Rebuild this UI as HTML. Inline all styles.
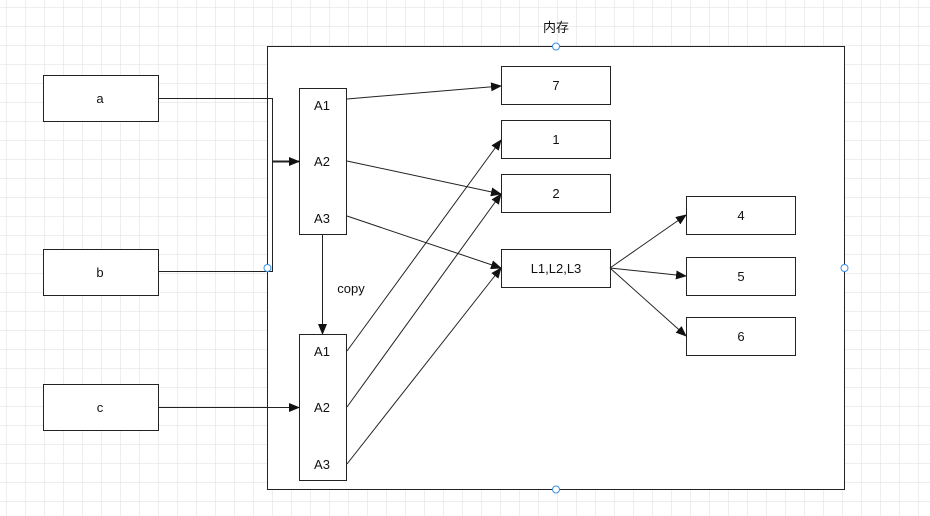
<!DOCTYPE html>
<html><head><meta charset="utf-8"><style>
html,body{margin:0;padding:0;background:#fff;}
svg{display:block;font-family:"Liberation Sans","Noto Sans CJK SC",sans-serif;}
</style></head><body>
<svg width="930" height="516" viewBox="0 0 930 516" xmlns="http://www.w3.org/2000/svg">
<defs>
<pattern id="g" x="6" y="7" width="19" height="19" patternUnits="userSpaceOnUse">
<path d="M0 0H19M0 0V19" stroke="#dedede" stroke-width="1" fill="none"/>
</pattern>
<marker id="ar" markerWidth="11" markerHeight="9" refX="10" refY="4.5" orient="auto" markerUnits="userSpaceOnUse">
<path d="M0 0L11 4.5L0 9Z" fill="#111"/>
</marker>
</defs>
<rect width="930" height="516" fill="url(#g)"/>
<g fill="#fff" stroke="#222" stroke-width="1">
<rect x="267.5" y="46.5" width="577" height="443"/>
<rect x="43.5" y="75.5" width="115" height="46"/>
<rect x="43.5" y="249.5" width="115" height="46"/>
<rect x="43.5" y="384.5" width="115" height="46"/>
<rect x="299.5" y="88.5" width="47" height="146"/>
<rect x="299.5" y="334.5" width="47" height="146"/>
<rect x="501.5" y="66.5" width="109" height="38"/>
<rect x="501.5" y="120.5" width="109" height="38"/>
<rect x="501.5" y="174.5" width="109" height="38"/>
<rect x="501.5" y="249.5" width="109" height="38"/>
<rect x="686.5" y="196.5" width="109" height="38"/>
<rect x="686.5" y="257.5" width="109" height="38"/>
<rect x="686.5" y="317.5" width="109" height="38"/>
</g>
<g stroke="#222" stroke-width="1" fill="none">
<path d="M158 98.5H272.5V161.5"/>
<path d="M158 271.5H272.5V161.5"/>
<path d="M272 161.5H299" stroke-width="2" marker-end="url(#ar)"/>
<path d="M158 407.5H299" marker-end="url(#ar)"/>
<path d="M347 99L501 86" marker-end="url(#ar)"/>
<path d="M347 161L501 194" marker-end="url(#ar)"/>
<path d="M347 216L501 268" marker-end="url(#ar)"/>
<path d="M347 351L501 140" marker-end="url(#ar)"/>
<path d="M347 407L501 194" marker-end="url(#ar)"/>
<path d="M347 464L501 268" marker-end="url(#ar)"/>
<path d="M322.5 234V334" marker-end="url(#ar)"/>
<path d="M610 268L686 215" marker-end="url(#ar)"/>
<path d="M610 268L686 276" marker-end="url(#ar)"/>
<path d="M610 268L686 336" marker-end="url(#ar)"/>
</g>
<g fill="#fff" stroke="#3b8fe8" stroke-width="1">
<circle cx="556" cy="46.5" r="3.5"/><circle cx="556" cy="489.5" r="3.5"/>
<circle cx="267.5" cy="268" r="3.5"/><circle cx="844.5" cy="268" r="3.5"/>
</g>
<g font-size="13" fill="#111" text-anchor="middle">
<text x="556" y="32">内存</text>
<text x="100" y="103">a</text>
<text x="100" y="277">b</text>
<text x="100" y="412">c</text>
<text x="322" y="110">A1</text>
<text x="322" y="166">A2</text>
<text x="322" y="223">A3</text>
<text x="322" y="356">A1</text>
<text x="322" y="412">A2</text>
<text x="322" y="469">A3</text>
<text x="351" y="293">copy</text>
<text x="556" y="90">7</text>
<text x="556" y="144">1</text>
<text x="556" y="198">2</text>
<text x="556" y="273">L1,L2,L3</text>
<text x="741" y="220">4</text>
<text x="741" y="281">5</text>
<text x="741" y="341">6</text>
</g>
</svg>
</body></html>
